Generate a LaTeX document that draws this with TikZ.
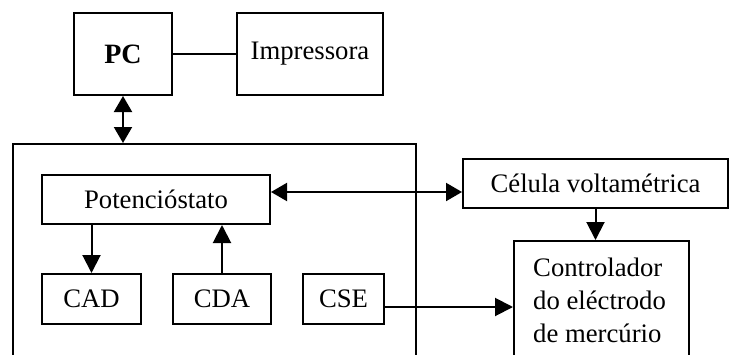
\documentclass[tikz,border=0pt]{standalone}
\usepackage{fontspec}
\setmainfont{Liberation Serif}
\usetikzlibrary{arrows.meta}
\tikzset{
    blk/.style={draw,line width=2pt,inner sep=0pt},
    link/.style={line width=2pt},
    arr/.style={link,-{Triangle[length=18pt,width=18pt]}},
    darr/.style={link,{Triangle[length=16pt,width=18pt]}-{Triangle[length=16pt,width=18pt]}}
}
\begin{document}
\begin{tikzpicture}[x=1pt,y=-1pt]
\fontsize{26.7}{33}\selectfont
\clip (0,0) rectangle (729,354);

\node[blk,minimum width=98pt,minimum height=82pt] at (123,54)(pc){\fontsize{28}{33}\selectfont\bfseries PC};
\node[blk,minimum width=146pt,minimum height=82pt] at (310,54)(printer){Impressora};
\path[draw,link] (pc) -- (printer);

% instrument box (runs off the bottom)
\node[blk,anchor=north west,minimum width=403pt,minimum height=260pt] at (12,143)(inst){};
\draw[darr] (pc.south) -- (pc.south |- inst.north);

\node[blk,minimum width=228pt,minimum height=49pt] at (156,199.5)(pot){Potenci\'ostato};
\foreach \n/\t/\x/\w in {cad/CAD/91.5/99, cda/CDA/222/98, cse/CSE/343.5/81}{
    \node[blk,minimum width=\w pt,minimum height=50pt] at (\x,299)(\n){\t};
}
\draw[arr] (pot.south -| cad.north) -- (cad.north);
\draw[arr] (cda.north) -- (cda.north |- pot.south);

\node[blk,minimum width=265pt,minimum height=49pt] at (595.5,183.5)(cel){C\'elula voltam\'etrica};
\node[blk,anchor=north west,minimum width=175pt,minimum height=200pt] at (513,240)(ctrl){};
\node[anchor=north west,align=left,inner sep=0pt] at (533,258)(ctrltxt){Controlador\\do el\'ectrodo\\de merc\'urio};

\coordinate (potline) at (440,192);
\coordinate (cseline) at (450,307);
\draw[darr] (pot.east |- potline) -- (cel.west |- potline);
\draw[arr] (cel.south) -- (cel.south |- ctrl.north);
\draw[arr] (cse.east |- cseline) -- (ctrl.west |- cseline);
\end{tikzpicture}
\end{document}
